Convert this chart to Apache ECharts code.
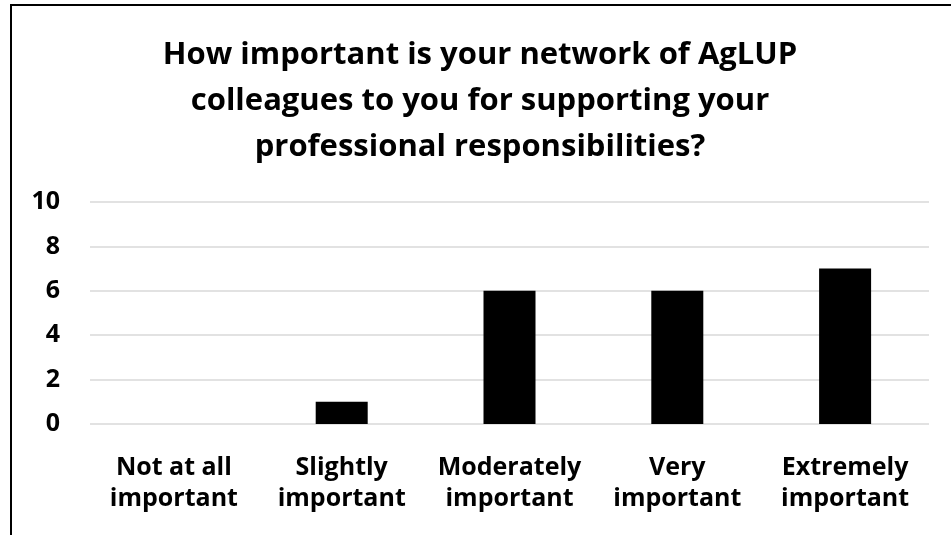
<!DOCTYPE html>
<html>
<head>
<meta charset="utf-8">
<script src="https://cdn.jsdelivr.net/npm/echarts@6/dist/echarts.min.js"></script>
<style>html,body{margin:0;padding:0;background:#fff}#c{width:951px;height:535px}</style>
</head>
<body>
<div id="c"></div>
<script>
const titleText = "How important is your network of AgLUP\ncolleagues to you for supporting your\nprofessional responsibilities?";
const categories = ["Not at all\nimportant", "Slightly\nimportant", "Moderately\nimportant", "Very\nimportant", "Extremely\nimportant"];
const values = [0, 1, 6, 6, 7];
const yTicks = { min: 0, max: 10, interval: 2 };

const FONT = "'Open Sans', 'Noto Sans', sans-serif";
const chart = echarts.init(document.getElementById('c'), null, { renderer: 'canvas' });
chart.setOption({
  animation: false,
  backgroundColor: '#fff',
  graphic: [{
    type: 'rect',
    shape: { x: 11, y: 5, width: 1000, height: 600 },
    style: { fill: 'none', stroke: '#000', lineWidth: 2 },
    silent: true
  }],
  title: {
    text: titleText,
    left: 475,
    textAlign: 'center',
    top: 27,
    textStyle: { fontFamily: FONT, fontWeight: 'bold', fontSize: 31, lineHeight: 46, color: '#000' }
  },
  grid: { left: 90, right: 22, top: 202, bottom: 111, containLabel: false },
  xAxis: {
    type: 'category',
    data: categories,
    axisLine: { show: false },
    axisTick: { show: false },
    axisLabel: { interval: 0, margin: 28, fontFamily: FONT, fontWeight: 'bold', fontSize: 25, lineHeight: 31, color: '#000' }
  },
  yAxis: {
    type: 'value',
    min: yTicks.min, max: yTicks.max, interval: yTicks.interval,
    axisLine: { show: false },
    axisTick: { show: false },
    splitLine: { lineStyle: { color: '#d9d9d9', width: 1.5 } },
    axisLabel: { margin: 30, fontFamily: FONT, fontWeight: 'bold', fontSize: 25, color: '#000' }
  },
  series: [{
    type: 'bar',
    data: values,
    barWidth: 52,
    itemStyle: { color: '#000' }
  }]
});
</script>
</body>
</html>
